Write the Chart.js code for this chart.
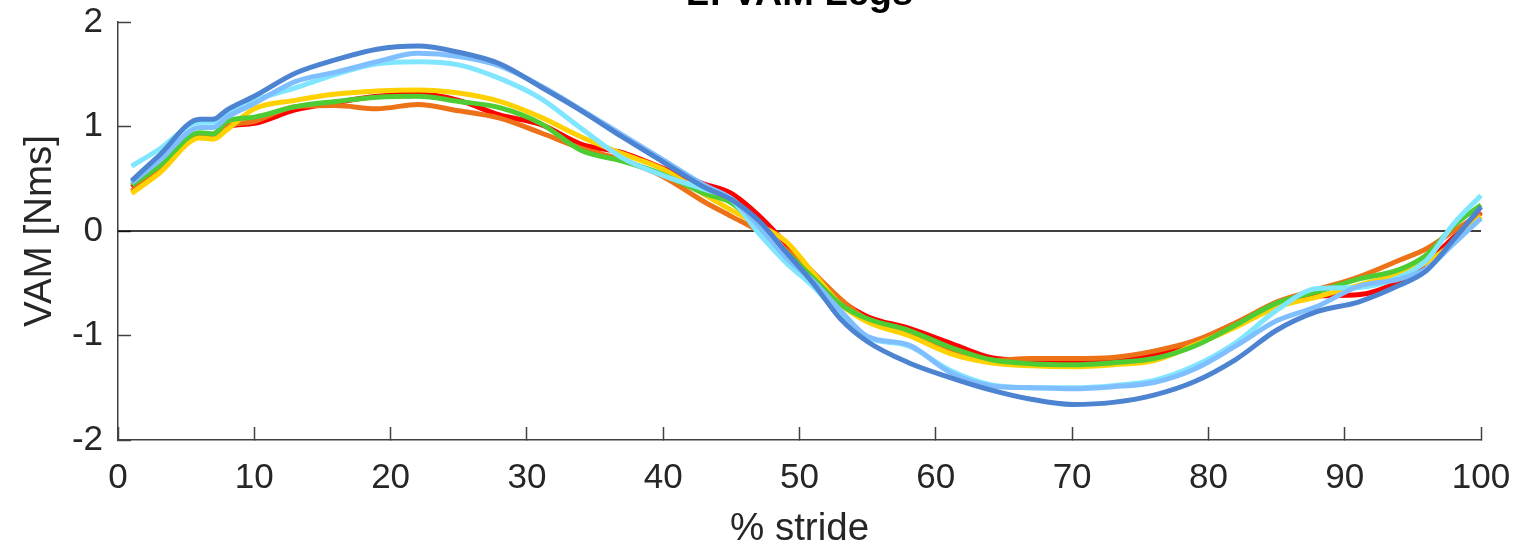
<!DOCTYPE html>
<html>
<head>
<meta charset="utf-8">
<script src="https://cdn.jsdelivr.net/npm/chart.js@4"></script>
<style>
  body { margin: 0; background: #fff; }
  canvas { display: block; }
</style>
</head>
<body>
<canvas id="myChart" width="1518" height="552"></canvas>
<script>
const STRIDE = [
  1, 3, 6, 7, 8, 10, 13, 16, 19, 22, 25, 28, 31, 34, 37, 40, 43, 45, 47, 49,
  51, 53, 55, 58, 61, 64, 67, 70, 73, 76, 79, 82, 85, 88, 91, 94, 96, 98, 100,
];

const RED = [
  0.42, 0.6, 0.92, 0.92, 1.0, 1.03, 1.16, 1.23, 1.29, 1.31, 1.25, 1.11, 1.02,
  0.83, 0.75, 0.6, 0.45, 0.36, 0.15, -0.12, -0.4, -0.66, -0.82, -0.93, -1.07,
  -1.21, -1.24, -1.25, -1.23, -1.18, -1.06, -0.88, -0.7, -0.62, -0.61, -0.48,
  -0.3, -0.06, 0.18,
];
const ORANGE = [
  0.38, 0.58, 0.9, 0.9, 1.0, 1.05, 1.19, 1.2, 1.17, 1.21, 1.15, 1.08, 0.94,
  0.79, 0.68, 0.52, 0.28, 0.14, 0.0, -0.18, -0.4, -0.65, -0.85, -0.97, -1.15,
  -1.24, -1.22, -1.22, -1.21, -1.15, -1.05, -0.88, -0.68, -0.56, -0.44, -0.28,
  -0.17, 0.0, 0.17,
];
const YELLOW = [
  0.36, 0.55, 0.89, 0.88, 0.97, 1.17, 1.25, 1.31, 1.34, 1.35, 1.32, 1.24, 1.09,
  0.9, 0.74, 0.59, 0.35, 0.2, 0.06, -0.1, -0.4, -0.7, -0.87, -1.0, -1.17,
  -1.26, -1.29, -1.3, -1.28, -1.24, -1.09, -0.92, -0.73, -0.63, -0.52, -0.41,
  -0.3, -0.11, 0.14,
];
const GREEN = [
  0.44, 0.62, 0.94, 0.93, 1.05, 1.09, 1.19, 1.24, 1.28, 1.29, 1.24, 1.18, 1.03,
  0.77, 0.67, 0.54, 0.36, 0.27, 0.04, -0.2, -0.45, -0.7, -0.84, -0.95, -1.11,
  -1.23, -1.27, -1.28, -1.26, -1.22, -1.1, -0.9, -0.69, -0.58, -0.46, -0.37,
  -0.23, 0.05, 0.25,
];
const CYAN = [
  0.62, 0.78, 1.04, 1.04, 1.12, 1.25, 1.37, 1.5, 1.6, 1.62, 1.59, 1.46, 1.27,
  0.98, 0.7, 0.53, 0.4, 0.3, -0.02, -0.3, -0.53, -0.8, -1.02, -1.1, -1.33,
  -1.47, -1.5, -1.5, -1.48, -1.43, -1.29, -1.07, -0.76, -0.55, -0.54, -0.44,
  -0.28, 0.07, 0.34,
];
const LIGHTBLUE = [
  0.46, 0.67, 0.99, 0.99, 1.09, 1.22, 1.43, 1.52, 1.62, 1.7, 1.67, 1.58, 1.39,
  1.16, 0.92, 0.68, 0.44, 0.31, 0.05, -0.25, -0.48, -0.76, -1.01, -1.09, -1.35,
  -1.48, -1.5, -1.51, -1.49, -1.45, -1.32, -1.1, -0.86, -0.72, -0.53, -0.46,
  -0.36, -0.12, 0.12,
];
const DARKBLUE = [
  0.48, 0.72, 1.07, 1.07, 1.16, 1.29, 1.51, 1.64, 1.74, 1.77, 1.71, 1.6, 1.38,
  1.15, 0.9, 0.66, 0.42, 0.3, 0.1, -0.2, -0.5, -0.84, -1.06, -1.26, -1.4,
  -1.52, -1.61, -1.66, -1.64, -1.57, -1.44, -1.23, -0.95, -0.77, -0.68, -0.52,
  -0.38, -0.08, 0.23,
];

const ZERO_X = [0, 100];
const X_TICKS = [0, 10, 20, 30, 40, 50, 60, 70, 80, 90, 100];
const Y_TICKS = [-2, -1, 0, 1, 2];
const TITLE = "L: VAM Legs";

// drawn top first (chart.js paints dataset 0 last)
const SERIES = [
  { data: DARKBLUE, color: "#4D84D2" },
  { data: LIGHTBLUE, color: "#80BFFF" },
  { data: CYAN, color: "#80E5FF" },
  { data: GREEN, color: "#4DCC33" },
  { data: YELLOW, color: "#FFD100" },
  { data: ORANGE, color: "#ED7117" },
  { data: RED, color: "#FF0000" },
];

const FONT = "'Liberation Sans', Arial, Helvetica, sans-serif";
const AXIS = "#404040";

const toPoints = (vals) => vals.map((v, i) => ({ x: STRIDE[i], y: v }));

const datasets = SERIES.map((s) => ({
  data: toPoints(s.data),
  borderColor: s.color,
  borderWidth: 5,
  pointRadius: 0,
  cubicInterpolationMode: "monotone",
  fill: false,
  clip: false,
}));

// zero reference line
datasets.push({
  data: ZERO_X.map((x) => ({ x: x, y: 0 })),
  borderColor: "#000000",
  borderWidth: 1.3,
  pointRadius: 0,
  fill: false,
});

// title sits mostly above the top edge, like the cropped original
const titlePlugin = {
  id: "cutTitle",
  afterDraw: (chart) => {
    const c = chart.ctx;
    const area = chart.chartArea;
    c.save();
    c.fillStyle = "#000";
    c.font = "bold 38px " + FONT;
    c.textAlign = "center";
    c.textBaseline = "alphabetic";
    c.fillText(TITLE, (area.left + area.right) / 2, 4.5);
    c.restore();
  },
};

const ctx = document.getElementById("myChart").getContext("2d");

const myChart = new Chart(ctx, {
  type: "line",
  data: { datasets: datasets },
  plugins: [titlePlugin],
  options: {
    responsive: false,
    animation: false,
    devicePixelRatio: 1,
    layout: { padding: { top: 22, right: 37, bottom: 0, left: 0 } },
    plugins: {
      legend: { display: false },
      tooltip: { enabled: false },
      title: { display: false },
    },
    scales: {
      x: {
        type: "linear",
        min: 0,
        max: 100,
        afterFit: (scale) => {
          scale.height = 112;
          scale.paddingLeft = 0;
          scale.paddingRight = 0;
        },
        afterBuildTicks: (scale) => {
          scale.ticks = X_TICKS.map((v) => ({ value: v }));
        },
        grid: {
          drawOnChartArea: false,
          tickLength: -13,
          tickColor: AXIS,
          tickWidth: 1.5,
        },
        border: { display: true, color: AXIS, width: 1.5 },
        ticks: {
          color: "#262626",
          padding: 30,
          maxRotation: 0,
          font: { family: FONT, size: 35 },
        },
        title: {
          display: true,
          text: "% stride",
          color: "#262626",
          font: { family: FONT, size: 38.5 },
          padding: { top: 0, bottom: 0 },
        },
      },
      y: {
        type: "linear",
        min: -2,
        max: 2,
        afterFit: (scale) => {
          scale.width = 118;
          scale.paddingTop = 0;
          scale.paddingBottom = 0;
        },
        afterBuildTicks: (scale) => {
          scale.ticks = Y_TICKS.map((v) => ({ value: v }));
        },
        grid: {
          drawOnChartArea: false,
          tickLength: -13,
          tickColor: AXIS,
          tickWidth: 1.5,
        },
        border: { display: true, color: AXIS, width: 1.5 },
        ticks: {
          color: "#262626",
          padding: 28,
          font: { family: FONT, size: 35 },
        },
        title: {
          display: true,
          text: "VAM [Nms]",
          color: "#262626",
          font: { family: FONT, size: 38.5 },
          padding: { top: 17, bottom: 0 },
        },
      },
    },
  },
});
</script>
</body>
</html>
